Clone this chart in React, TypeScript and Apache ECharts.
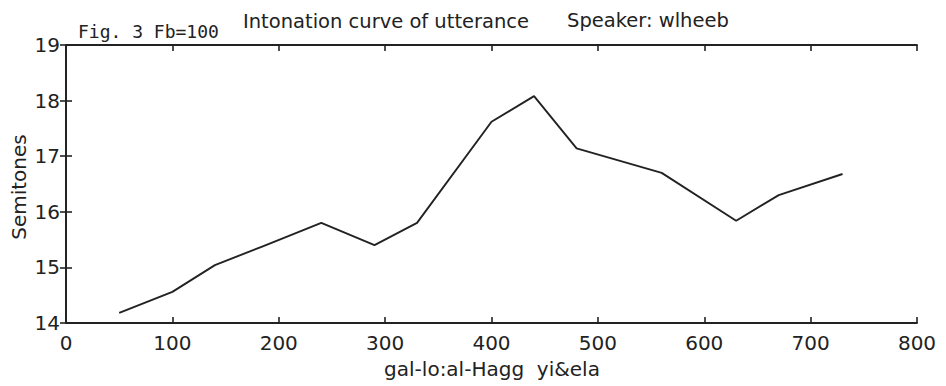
import React, { useEffect, useRef } from "react";
import * as echarts from "echarts";

const timeMs = [50, 100, 140, 185, 240, 290, 330, 400, 440, 480, 560, 630, 670, 730];
const semitones = [14.18, 14.56, 15.04, 15.38, 15.8, 15.4, 15.8, 17.62, 18.08, 17.14, 16.7, 15.84, 16.3, 16.68];
const xTickValues = [0, 100, 200, 300, 400, 500, 600, 700, 800];
const yTickValues = [14, 15, 16, 17, 18, 19];

const figLabel = "Fig. 3 Fb=100";
const titleText = "Intonation curve of utterance";
const speakerText = "Speaker: wlheeb";
const xAxisTitle = "gal-lo:al-Hagg  yi&ela";
const yAxisTitle = "Semitones";

const SANS = "'DejaVu Sans', sans-serif";
const INK = "#222";

export default function App() {
  const ref = useRef<HTMLDivElement>(null);
  useEffect(() => {
    if (!ref.current) return;
    const chart = echarts.init(ref.current, null, { renderer: "svg" });
    const axisLine = { show: true, lineStyle: { color: INK, width: 1.8 } };
    const tick = { show: true, inside: true, length: 6, lineStyle: { color: INK, width: 1.6 } };
    const xMin = xTickValues[0];
    const xMax = xTickValues[xTickValues.length - 1];
    const yMin = yTickValues[0];
    const yMax = yTickValues[yTickValues.length - 1];
    chart.setOption({
      animation: false,
      backgroundColor: "#fff",
      grid: { left: 66, right: 29, top: 45, bottom: 63 },
      xAxis: [
        {
          type: "value", position: "bottom", min: xMin, max: xMax, interval: 100,
          axisLine, axisTick: tick, splitLine: { show: false },
          axisLabel: { color: INK, fontFamily: SANS, fontSize: 20, margin: 10 },
        },
        {
          type: "value", position: "top", min: xMin, max: xMax, interval: 100,
          axisLine, axisTick: tick, splitLine: { show: false }, axisLabel: { show: false },
        },
      ],
      yAxis: [
        {
          type: "value", position: "left", min: yMin, max: yMax, interval: 1,
          axisLine, axisTick: tick, splitLine: { show: false },
          axisLabel: { color: INK, fontFamily: SANS, fontSize: 20, margin: 6 },
        },
        {
          type: "value", position: "right", min: yMin, max: yMax, interval: 1,
          axisLine, axisTick: tick, splitLine: { show: false }, axisLabel: { show: false },
        },
      ],
      series: [
        {
          type: "line",
          data: timeMs.map((t, i) => [t, semitones[i]]),
          showSymbol: false,
          lineStyle: { color: INK, width: 1.9 },
          xAxisIndex: 0, yAxisIndex: 0,
        },
      ],
      graphic: [
        {
          type: "text", x: 78, y: 31,
          style: { text: figLabel, font: "18px 'DejaVu Sans Mono', monospace", fill: INK, verticalAlign: "middle" },
        },
        {
          type: "text", x: 243, y: 21,
          style: { text: titleText, font: `19.5px ${SANS}`, fill: INK, verticalAlign: "middle" },
        },
        {
          type: "text", x: 567, y: 20,
          style: { text: speakerText, font: `19.5px ${SANS}`, fill: INK, verticalAlign: "middle" },
        },
        {
          type: "text", x: 492, y: 369,
          style: { text: xAxisTitle, font: `20px ${SANS}`, fill: INK, align: "center", verticalAlign: "middle" },
        },
        {
          type: "text", x: 19, y: 187, rotation: Math.PI / 2,
          style: { text: yAxisTitle, font: `20px ${SANS}`, fill: INK, align: "center", verticalAlign: "middle" },
        },
      ],
    });
    return () => chart.dispose();
  }, []);
  return <div ref={ref} style={{ position: "fixed", left: 0, top: 0, width: 946, height: 386 }} />;
}
